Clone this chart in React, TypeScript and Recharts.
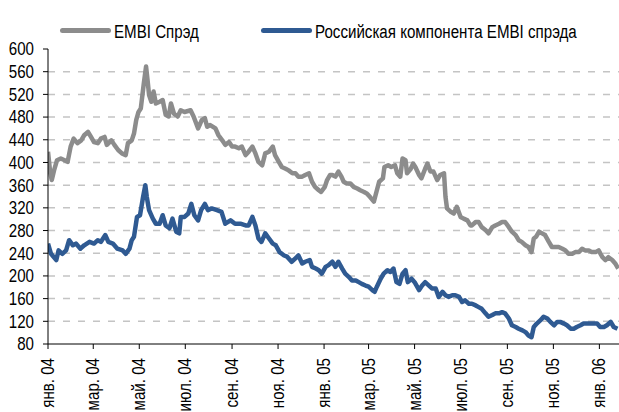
import React from 'react';
import { LineChart, Line, XAxis, YAxis, CartesianGrid } from 'recharts';

const FONT = "'Liberation Sans', Arial, sans-serif";
const FONT_SIZE = 18;
const SQUEEZE = 0.84; // the original uses a condensed face

// x = days since 1 Jan 2004
const tickDays = [0, 60, 121, 182, 244, 305, 366, 425, 486, 547, 609, 670, 731];
const tickLabels = [
  'янв. 04', 'мар. 04', 'май. 04', 'июл. 04', 'сен. 04', 'ноя. 04',
  'янв. 05', 'мар. 05', 'май. 05', 'июл. 05', 'сен. 05', 'ноя. 05', 'янв. 06',
];
const yTicks = [80, 120, 160, 200, 240, 280, 320, 360, 400, 440, 480, 520, 560, 600];
const gridValues = [120, 160, 200, 240, 280, 320, 360, 400, 440, 480, 520, 560];

const embiDays = [
  0, 3, 5, 8, 12, 17, 22, 26, 30, 34, 39, 44, 48, 53, 57, 61, 66, 70, 75, 78,
  84, 88, 93, 98, 103, 106, 111, 114, 117, 120, 123, 127, 130, 132, 134, 137, 140, 143, 148, 152,
  156, 160, 163, 167, 172, 176, 181,
  189, 193, 199, 204, 208, 211, 215, 222, 226, 231, 235, 240, 244, 248, 253, 257, 262, 266, 271, 275,
  279, 284, 288, 293, 298, 301, 306, 310, 315, 319, 324, 328, 332, 337, 341, 346, 350, 354, 359, 362,
  367, 370, 374,
  377, 381, 385, 389, 392, 396, 401, 405, 410, 414, 419, 423, 427, 432, 436, 439, 444, 446, 451, 455,
  460, 463, 467, 470, 474, 476, 481, 484, 487, 492, 495, 500, 503, 507, 511, 516, 520, 525, 527, 529,
  534, 538, 542, 547, 551, 556, 560,
  562, 567, 571, 575, 580, 584, 589, 593, 598, 602, 606, 611, 615, 620, 624, 628, 633, 637, 641, 644,
  647, 651, 655, 659, 664, 668, 673, 677, 682, 686, 690, 695, 699, 704, 708, 712, 717, 721, 726, 730,
  735, 739, 743, 748, 752, 756,
];
const embiValues = [
  419, 381, 369, 386, 404, 407, 404, 401, 428, 442, 434, 439, 448, 454, 445, 436, 434, 442, 445, 431,
  439, 431, 422, 416, 413, 434, 439, 451, 475, 489, 495, 539, 569, 545, 519, 507, 525, 504, 507, 510,
  484, 481, 504, 486, 481, 492, 489,
  492, 481, 460, 475, 478, 463, 466, 460, 448, 439, 431, 436, 428, 428, 425, 428, 413, 419, 428, 416,
  401, 395, 416, 419, 428, 413, 401, 392, 389, 386, 381, 381, 375, 375, 378, 381, 366, 357, 351, 348,
  357, 369, 378,
  378, 375, 384, 375, 366, 363, 363, 357, 354, 351, 348, 345, 339, 331, 351, 366, 372, 392, 395, 392,
  395, 381, 375, 407, 404, 381, 389, 398, 392, 378, 372, 389, 398, 384, 384, 369, 378, 381, 339, 319,
  313, 310, 322, 304, 301, 298, 289,
  289, 295, 295, 286, 281, 275, 286, 289, 292, 295, 295, 286, 278, 272, 263, 260, 254, 251, 242, 266,
  269, 278, 275, 272, 260, 251, 251, 251, 248, 245, 239, 239, 242, 242, 248, 245, 245, 242, 242, 245,
  233, 228, 233, 228, 222, 213,
];

const russiaDays = [
  0, 4, 11, 14, 19, 24, 28, 33, 37, 43, 48, 55, 61, 66, 70, 76, 80, 86, 92, 99,
  103, 108, 111, 114, 118, 122, 126, 129, 131, 134, 139, 143, 148, 152, 156, 161, 165, 170, 174, 176,
  181,
  186, 190, 194, 199, 203, 208, 212, 217, 224, 230, 235, 242, 248, 255, 262, 266, 271, 275, 279, 283,
  288, 293, 298, 302, 307, 313, 317, 323, 328, 332, 337, 341, 347, 350, 355, 359, 363,
  368, 372, 377, 381, 385, 390, 394, 399, 403, 408, 412, 416, 421, 425, 430, 433, 436, 441, 445, 450,
  454, 458, 462, 466, 470, 474, 477, 482, 486, 492, 496, 500, 505, 509, 514, 518, 523, 527, 531, 536,
  540, 545, 549, 553,
  558, 562, 567, 571, 575, 580, 584, 589, 593, 598, 602, 606, 611, 615, 620, 624, 629, 633, 637, 641,
  644, 648, 653, 657, 662, 666, 671, 675, 679, 684, 688, 693, 697, 701, 706, 710, 715, 719, 724, 728,
  732, 737, 741, 746, 750, 755,
];
const russiaValues = [
  257, 239, 228, 245, 239, 245, 263, 254, 257, 248, 254, 260, 257, 263, 260, 272, 260, 257, 248, 245,
  239, 248, 263, 269, 304, 307, 339, 360, 339, 316, 301, 292, 292, 307, 289, 284, 301, 278, 275, 304,
  304,
  310, 327, 307, 298, 316, 327, 316, 319, 316, 313, 292, 298, 292, 292, 289, 289, 304, 289, 266, 260,
  275, 266, 257, 254, 242, 236, 234, 225, 231, 236, 222, 225, 228, 216, 213, 210, 204,
  216, 219, 225, 216, 225, 213, 204, 198, 192, 192, 189, 186, 183, 181, 175, 172, 181, 195, 204, 210,
  207, 213, 189, 186, 204, 210, 189, 195, 189, 175, 183, 189, 183, 178, 178, 163, 172, 166, 163, 166,
  166, 163, 154, 157,
  151, 151, 148, 145, 142, 134, 128, 131, 134, 134, 136, 134, 125, 113, 110, 107, 104, 101, 95, 92,
  110, 116, 122, 128, 125, 119, 113, 119, 119, 116, 113, 107, 107, 110, 113, 116, 116, 116, 116, 116,
  110, 110, 113, 119, 110, 107,
];

const embiData = embiDays.map((day, i) => ({ day, value: embiValues[i] }));
const russiaData = russiaDays.map((day, i) => ({ day, value: russiaValues[i] }));

const GRAY = '#8c8c8c';
const BLUE = '#2f5a92';

function XTick(props: any) {
  const { x, y, payload } = props;
  const label = tickLabels[tickDays.indexOf(payload.value)];
  return (
    <text
      transform={`translate(${x} ${y}) rotate(-90) scale(${SQUEEZE} 1)`}
      textAnchor="end"
      dominantBaseline="central"
      fontFamily={FONT}
      fontSize={FONT_SIZE}
      fill="#000"
    >
      {label}
    </text>
  );
}

function YTick(props: any) {
  const { x, y, payload } = props;
  return (
    <text
      transform={`translate(${x} ${y}) scale(${SQUEEZE} 1)`}
      textAnchor="end"
      dy="0.355em"
      fontFamily={FONT}
      fontSize={FONT_SIZE}
      fill="#000"
    >
      {payload.value}
    </text>
  );
}

function LegendItem({ left, color, text }: { left: number; color: string; text: string }) {
  return (
    <>
      <div
        style={{
          position: 'absolute', left, top: 28, width: 51, height: 5,
          background: color, borderRadius: 3,
        }}
      />
      <div
        style={{
          position: 'absolute', left: left + 54, top: 21, lineHeight: '22px',
          fontFamily: FONT, fontSize: FONT_SIZE, color: '#000', whiteSpace: 'nowrap',
          transform: `scaleX(${SQUEEZE})`, transformOrigin: 'left center',
        }}
      >
        {text}
      </div>
    </>
  );
}

export default function App() {
  return (
    <div style={{ position: 'absolute', left: 0, top: 0, width: 619, height: 412, background: '#fff' }}>
      <LineChart width={619} height={412} margin={{ top: 49, right: 0, bottom: 8, left: 0 }}>
        <CartesianGrid
          horizontal
          vertical={false}
          horizontalValues={gridValues}
          stroke="#c4c4c4"
          strokeWidth={1.5}
          strokeDasharray="7 8"
        />
        <XAxis
          type="number"
          dataKey="day"
          domain={[0, 757]}
          ticks={tickDays}
          interval={0}
          height={60}
          tickSize={5}
          tickMargin={9}
          tick={<XTick />}
          stroke="#000"
          allowDataOverflow
        />
        <YAxis
          type="number"
          domain={[80, 600]}
          ticks={yTicks}
          interval={0}
          width={48}
          tickSize={5}
          tickMargin={9}
          stroke="#000"
          tick={<YTick />}
        />
        <Line
          data={embiData}
          dataKey="value"
          stroke={GRAY}
          strokeWidth={4.5}
          strokeLinejoin="round"
          dot={false}
          isAnimationActive={false}
        />
        <Line
          data={russiaData}
          dataKey="value"
          stroke={BLUE}
          strokeWidth={4.5}
          strokeLinejoin="round"
          dot={false}
          isAnimationActive={false}
        />
      </LineChart>
      <LegendItem left={60} color={GRAY} text="EMBI Спрэд" />
      <LegendItem left={261} color={BLUE} text="Российская компонента EMBI спрэда" />
    </div>
  );
}
